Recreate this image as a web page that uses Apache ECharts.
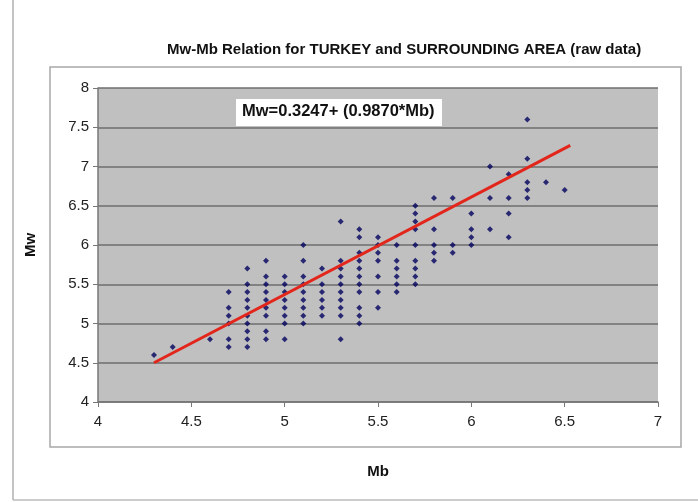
<!DOCTYPE html>
<html>
<head>
<meta charset="utf-8">
<script src="https://cdn.jsdelivr.net/npm/echarts@6/dist/echarts.min.js"></script>
<style>html,body{margin:0;padding:0;background:#fff}#c{width:698px;height:502px}</style>
</head>
<body>
<div id="c"></div>
<script>
// Mb columns and the Mw values observed in each column
const mbValues = [4.3, 4.4, 4.6, 4.7, 4.8, 4.9, 5.0, 5.1, 5.2, 5.3, 5.4, 5.5, 5.6, 5.7, 5.8, 5.9, 6.0, 6.1, 6.2, 6.3, 6.4, 6.5];
const mwByMb = [
  [4.6],
  [4.7],
  [4.8],
  [5.4, 5.2, 5.1, 5.0, 4.8, 4.7],
  [5.7, 5.5, 5.4, 5.3, 5.2, 5.1, 5.0, 4.9, 4.8, 4.7],
  [5.8, 5.6, 5.5, 5.4, 5.3, 5.2, 5.1, 4.9, 4.8],
  [5.6, 5.5, 5.4, 5.3, 5.2, 5.1, 5.0, 4.8],
  [6.0, 5.8, 5.6, 5.5, 5.4, 5.3, 5.2, 5.1, 5.0],
  [5.7, 5.5, 5.4, 5.3, 5.2, 5.1],
  [6.3, 5.8, 5.7, 5.6, 5.5, 5.4, 5.3, 5.2, 5.1, 4.8],
  [6.2, 6.1, 5.9, 5.8, 5.7, 5.6, 5.5, 5.4, 5.2, 5.1, 5.0],
  [6.1, 6.0, 5.9, 5.8, 5.6, 5.4, 5.2],
  [6.0, 5.8, 5.7, 5.6, 5.5, 5.4],
  [6.5, 6.4, 6.3, 6.2, 6.0, 5.8, 5.7, 5.6, 5.5],
  [6.6, 6.2, 6.0, 5.9, 5.8],
  [6.6, 6.0, 5.9],
  [6.4, 6.2, 6.1, 6.0],
  [7.0, 6.6, 6.2],
  [6.9, 6.6, 6.4, 6.1],
  [7.6, 7.1, 6.8, 6.7, 6.6],
  [6.8],
  [6.7]
];
// Fitted line endpoints as drawn in the picture
const fitMb = [4.3, 6.53];
const fitMw = [4.5, 7.27];
const xTicks = [4, 4.5, 5, 5.5, 6, 6.5, 7];
const yTicks = [4, 4.5, 5, 5.5, 6, 6.5, 7, 7.5, 8];
const titleText = 'Mw-Mb Relation for TURKEY and SURROUNDING AREA (raw data)';
const equationText = 'Mw=0.3247+ (0.9870*Mb)';

const points = [];
mbValues.forEach((mb, i) => mwByMb[i].forEach(mw => points.push([mb, mw])));
const fitLine = fitMb.map((x, i) => [x, fitMw[i]]);

const font = '"Liberation Sans", Arial, sans-serif';
const chart = echarts.init(document.getElementById('c'), null, {renderer: 'canvas'});
chart.setOption({
  animation: false,
  backgroundColor: '#fff',
  title: {
    text: titleText, left: 162, top: 37,
    textStyle: {fontFamily: font, fontSize: 15, fontWeight: 'bold', color: '#111'}
  },
  grid: {left: 98, top: 88, width: 560, height: 314, show: true, backgroundColor: '#c0c0c0', borderWidth: 0},
  xAxis: {
    type: 'value', min: 4, max: 7, interval: 0.5,
    name: 'Mb', nameLocation: 'middle', nameGap: 62,
    nameTextStyle: {fontFamily: font, fontSize: 15, fontWeight: 'bold', color: '#111'},
    axisLine: {lineStyle: {color: '#777', width: 1.5}},
    axisTick: {show: true, length: 5, lineStyle: {color: '#777'}},
    axisLabel: {fontFamily: font, fontSize: 15, color: '#222', margin: 12,
      formatter: v => xTicks.includes(v) ? String(v) : ''},
    splitLine: {show: false}
  },
  yAxis: {
    type: 'value', min: 4, max: 8, interval: 0.5,
    name: 'Mw', nameLocation: 'middle', nameGap: 60, nameRotate: 90,
    nameTextStyle: {fontFamily: font, fontSize: 15, fontWeight: 'bold', color: '#111'},
    axisLine: {show: true, lineStyle: {color: '#777', width: 1.5}},
    axisTick: {show: true, length: 5, lineStyle: {color: '#777'}},
    axisLabel: {fontFamily: font, fontSize: 15, color: '#222', margin: 9,
      formatter: v => yTicks.includes(v) ? String(v) : ''},
    splitLine: {show: true, lineStyle: {color: '#6e6e6e', width: 1.5}}
  },
  series: [
    {type: 'scatter', data: points, symbol: 'diamond', symbolSize: 6,
      itemStyle: {color: '#00005e'}, z: 3},
    {type: 'line', data: fitLine, symbol: 'none', lineStyle: {color: '#e3261b', width: 3}, z: 4}
  ],
  graphic: [
    {type: 'line', shape: {x1: 13, y1: 0, x2: 13, y2: 500}, style: {stroke: '#888', lineWidth: 1}},
    {type: 'line', shape: {x1: 13, y1: 500, x2: 698, y2: 500}, style: {stroke: '#bbb', lineWidth: 1.5}},
    {type: 'rect', shape: {x: 50, y: 67, width: 631, height: 380}, style: {fill: 'none', stroke: '#a8a8a8', lineWidth: 1.5}, z: -1},
    {type: 'rect', shape: {x: 236, y: 99, width: 206, height: 27}, style: {fill: '#fff'}, z: 10},
    {type: 'text', left: 242, top: 103, z: 11,
      style: {text: equationText, font: 'bold 16.5px ' + font, fill: '#111'}}
  ]
});
</script>
</body>
</html>
